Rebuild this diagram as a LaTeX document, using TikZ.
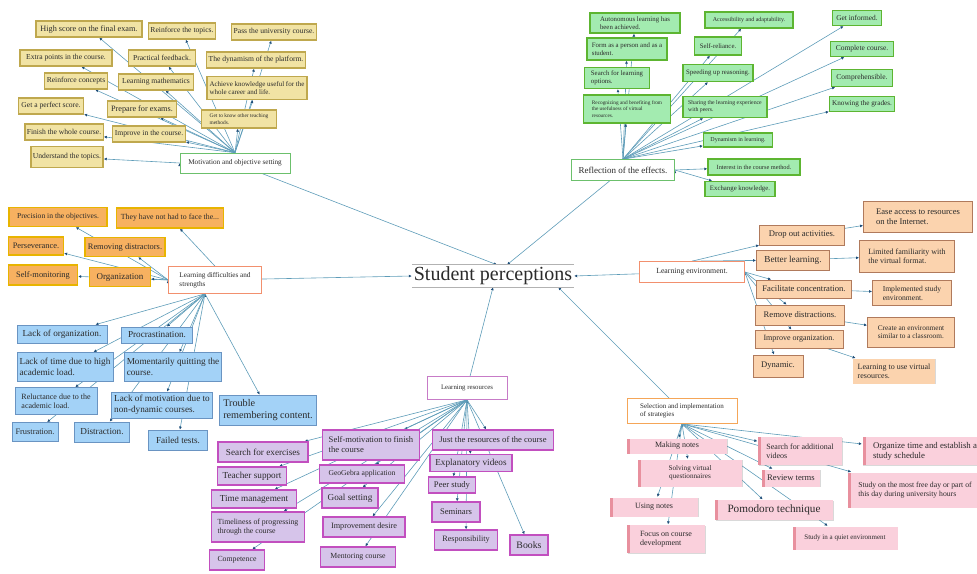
\documentclass[tikz,border=0pt]{standalone}
\usepackage{fontspec}
\setmainfont{Liberation Serif}
\usetikzlibrary{arrows.meta,shadows}
\definecolor{yelfill}{HTML}{F1E3A4}
\definecolor{yeldraw}{HTML}{BFA84E}
\definecolor{grnfill}{HTML}{A3EBB0}
\definecolor{grndraw}{HTML}{5DB531}
\definecolor{orgfill}{HTML}{F7B160}
\definecolor{orgdraw}{HTML}{E8B400}
\definecolor{blufill}{HTML}{A3D2F7}
\definecolor{bludraw}{HTML}{6A94C2}
\definecolor{purfill}{HTML}{D6C4EA}
\definecolor{purdraw}{HTML}{C24FBF}
\definecolor{pnkfill}{HTML}{FAD0DC}
\definecolor{pnkbar}{HTML}{E8909E}
\definecolor{peafill}{HTML}{FBD3AE}
\definecolor{peadraw}{HTML}{B07A5C}
\definecolor{linkblue}{HTML}{5E9CB8}
\definecolor{tipblue}{HTML}{1F4E79}
\definecolor{catgreen}{HTML}{6CC06C}
\definecolor{catorange}{HTML}{F2906E}
\definecolor{catpurple}{HTML}{C77BC7}
\definecolor{txt}{HTML}{2B2B2B}
\pgfdeclarelayer{background}
\pgfsetlayers{background,main}
\tikzset{
  leaf/.style={draw, line width=1.3pt, inner sep=2pt, align=left, text=txt,
    minimum height=16pt, drop shadow={opacity=0.3, shadow xshift=0.8pt, shadow yshift=-0.8pt}},
  yel/.style={leaf, fill=yelfill, draw=yeldraw, font=\fontsize{7.6}{8.6}\selectfont},
  grn/.style={leaf, fill=grnfill, draw=grndraw, font=\fontsize{6.8}{7.8}\selectfont},
  org/.style={leaf, fill=orgfill, draw=orgdraw, font=\fontsize{8.4}{9.6}\selectfont},
  blu/.style={leaf, fill=blufill, draw=bludraw, line width=0.8pt, font=\fontsize{9.2}{10.6}\selectfont},
  pur/.style={leaf, fill=purfill, draw=purdraw, font=\fontsize{8.6}{10}\selectfont},
  pnk/.style={leaf, fill=pnkfill, draw=none, font=\fontsize{8}{9.4}\selectfont,
    path picture={\fill[pnkbar] (path picture bounding box.north west) rectangle
      ([xshift=3pt]path picture bounding box.south west);}},
  pea/.style={leaf, fill=peafill, draw=peadraw, line width=0.9pt, font=\fontsize{8.6}{10}\selectfont},
  cat/.style={draw, fill=white, line width=0.7pt, inner sep=3pt, align=left, text=txt,
    font=\fontsize{7.2}{8.6}\selectfont},
  link/.style={draw=linkblue, line width=0.6pt, -{Latex[length=3pt,width=3pt,color=tipblue]}},
  rule/.style={draw=black!30, line width=1pt},
}
\begin{document}
\begin{tikzpicture}[x=1pt, y=-1pt]
\useasboundingbox (0,0) rectangle (977,573);

% centre
\node[minimum width=162pt, minimum height=22pt, inner sep=0pt, text=txt,
  font=\fontsize{20}{22}\selectfont] (sp) at (493,276) {Student perceptions};
\draw[rule] (sp.north west) -- (sp.north east);
\draw[rule] (sp.south west) -- (sp.south east);

% motivation
\node[cat, draw=catgreen, minimum width=110pt, minimum height=20pt] (mo) at (235,163) {Motivation and objective setting};
\node[yel, minimum width=106pt, font=\fontsize{8.2}{9.2}\selectfont] (hscore) at (89,29) {High score on the final exam.};
\node[yel, minimum width=63pt] (rtopic) at (182,31) {Reinforce the topics.};
\node[yel, minimum width=82pt] (pass) at (274,32) {Pass the university course.};
\node[yel, minimum width=92pt] (extra) at (66,58) {Extra points in the course.};
\node[yel, minimum width=67pt] (pfeed) at (162,58) {Practical feedback.};
\node[yel, minimum width=98pt] (dynam) at (256,60) {The dynamism of the platform.};
\node[yel, minimum width=62pt] (rconc) at (76,81) {Reinforce concepts};
\node[yel, minimum width=75pt] (lmath) at (156,82) {Learning mathematics};
\node[yel, minimum width=100pt, minimum height=23pt, font=\fontsize{7}{8}\selectfont] (achv) at (257,88) {Achieve knowledge useful for the\\whole career and life.};
\node[yel, minimum width=65pt] (pscore) at (51,106) {Get a perfect score.};
\node[yel, minimum width=69pt, font=\fontsize{8.2}{9.2}\selectfont] (prep) at (142,109) {Prepare for exams.};
\node[yel, minimum width=75pt, minimum height=18pt, font=\fontsize{5.4}{6.4}\selectfont] (gknow) at (239,119) {Get to know other teaching\\methods.};
\node[yel, minimum width=75pt] (finish) at (64,132) {Finish the whole course.};
\node[yel, minimum width=72pt] (impr) at (149,134) {Improve in the course.};
\node[yel, minimum width=71pt, minimum height=21pt] (under) at (67,157) {Understand the topics.};

% reflection
\node[cat, draw=catgreen, minimum width=103pt, minimum height=21pt, font=\fontsize{9}{10.4}\selectfont] (rf) at (623,170) {Reflection of the effects.};
\node[grn, minimum width=90pt, minimum height=20pt] (auto) at (635,23) {Autonomous learning has\\been achieved.};
\node[grn, minimum width=88pt, font=\fontsize{6}{7}\selectfont] (acc) at (749,20) {Accessibility and adaptability.};
\node[grn, minimum width=49pt, minimum height=15pt, font=\fontsize{7.4}{8.4}\selectfont] (ginf) at (857,18) {Get informed.};
\node[grn, minimum width=80pt, minimum height=22pt] (form) at (627,49) {Form as a person and as a\\student.};
\node[grn, minimum width=47pt, minimum height=18pt] (self) at (718,46) {Self-reliance.};
\node[grn, minimum width=63pt, minimum height=15pt, font=\fontsize{7.5}{8.5}\selectfont] (comp) at (862,49) {Complete course.};
\node[grn, minimum width=65pt, minimum height=21pt] (srch) at (617,78) {Search for learning\\options.};
\node[grn, minimum width=70pt, minimum height=17pt] (speed) at (718,73) {Speeding up reasoning.};
\node[grn, minimum width=61pt, minimum height=17pt, font=\fontsize{7.5}{8.5}\selectfont] (compr) at (862,78) {Comprehensible.};
\node[grn, minimum width=87pt, minimum height=28pt, font=\fontsize{5.3}{6.3}\selectfont] (recog) at (627,109) {Recognizing and benefiting from\\the usefulness of virtual\\resources.};
\node[grn, minimum width=84pt, minimum height=21pt, font=\fontsize{5.8}{6.8}\selectfont] (share) at (725,107) {Sharing the learning experience\\with peers.};
\node[grn, minimum width=65pt, minimum height=15pt, font=\fontsize{7.2}{8.2}\selectfont] (know) at (862,104) {Knowing the grades.};
\node[grn, minimum width=69pt, minimum height=14pt, font=\fontsize{6}{7}\selectfont] (dynl) at (738,140) {Dynamism in learning.};
\node[grn, minimum width=92pt, font=\fontsize{6.3}{7.3}\selectfont] (intr) at (754,167) {Interest in the course method.};
\node[grn, minimum width=70pt, minimum height=15pt] (exch) at (740,189) {Exchange knowledge.};

% difficulties and strengths
\node[cat, draw=catorange, minimum width=93pt, minimum height=27pt] (ld) at (215,280) {Learning difficulties and\\strengths};
\node[org, minimum width=98pt, minimum height=19pt, font=\fontsize{7.6}{8.6}\selectfont] (prec) at (58,217) {Precision in the objectives.};
\node[org, minimum width=107pt, minimum height=20pt, font=\fontsize{7.8}{8.8}\selectfont] (thev) at (170,218) {They have not had to face the...};
\node[org, minimum width=55pt, minimum height=18pt] (pers) at (36,246) {Perseverance.};
\node[org, minimum width=80pt, minimum height=19pt] (remd) at (125,247) {Removing distractors.};
\node[org, minimum width=69pt, minimum height=20pt] (smon) at (43,275) {Self-monitoring};
\node[org, minimum width=61pt, minimum height=19pt, font=\fontsize{9}{10}\selectfont] (orgn) at (120,277) {Organization};
\node[blu, minimum width=90pt, minimum height=18pt] (lorg) at (62,334) {Lack of organization.};
\node[blu, minimum width=71pt] (proc) at (157,335) {Procrastination.};
\node[blu, minimum width=96pt, minimum height=29pt] (ltime) at (65,367) {Lack of time due to high\\academic load.};
\node[blu, minimum width=97pt, minimum height=29pt] (mqui) at (173,367) {Momentarily quitting the\\course.};
\node[blu, minimum width=82pt, minimum height=27pt, font=\fontsize{8}{9.4}\selectfont] (relu) at (56,401) {Reluctance due to the\\academic load.};
\node[blu, minimum width=101pt, minimum height=26pt] (lmot) at (162,405) {Lack of motivation due to\\non-dynamic courses.};
\node[blu, minimum width=97pt, minimum height=30pt, font=\fontsize{10.2}{11.6}\selectfont] (troub) at (268,410) {Trouble\\remembering content.};
\node[blu, minimum width=46pt, minimum height=19pt, font=\fontsize{8.4}{9.4}\selectfont] (frus) at (35,432) {Frustration.};
\node[blu, minimum width=55pt, minimum height=20pt] (dist) at (102,432) {Distraction.};
\node[blu, minimum width=59pt, minimum height=20pt] (fail) at (178,440) {Failed tests.};

% resources
\node[cat, draw=catpurple, minimum width=80pt, minimum height=23pt, font=\fontsize{6.8}{7.8}\selectfont] (lr) at (467,388) {Learning resources};
\node[pur, minimum width=97pt, minimum height=30pt] (smot) at (371,445) {Self-motivation to finish\\the course};
\node[pur, minimum width=121pt, minimum height=20pt] (just) at (493,440) {Just the resources of the course};
\node[pur, minimum width=90pt, minimum height=20pt, font=\fontsize{9.2}{10.6}\selectfont] (sexe) at (263,452) {Search for exercises};
\node[pur, minimum width=82pt, minimum height=17pt, font=\fontsize{9.2}{10.6}\selectfont] (expl) at (471,463) {Explanatory videos};
\node[pur, minimum width=69pt, minimum height=18pt, font=\fontsize{9.2}{10.6}\selectfont] (tsup) at (252,476) {Teacher support};
\node[pur, minimum width=85pt, minimum height=18pt, font=\fontsize{7.6}{8.6}\selectfont] (geog) at (362,474) {GeoGebra application};
\node[pur, minimum width=47pt, minimum height=16pt] (peer) at (452,485) {Peer study};
\node[pur, minimum width=85pt, minimum height=18pt, font=\fontsize{9.2}{10.6}\selectfont] (tman) at (254,499) {Time management};
\node[pur, minimum width=56pt, minimum height=20pt, font=\fontsize{9.2}{10.6}\selectfont] (goal) at (350,498) {Goal setting};
\node[pur, minimum width=48pt, minimum height=20pt] (semi) at (456,512) {Seminars};
\node[pur, minimum width=93pt, minimum height=30pt, font=\fontsize{7.8}{9.4}\selectfont] (timel) at (258,527) {Timeliness of progressing\\through the course};
\node[pur, minimum width=82pt, minimum height=20pt, font=\fontsize{8.2}{9.4}\selectfont] (impd) at (364,527) {Improvement desire};
\node[pur, minimum width=63pt, minimum height=20pt, font=\fontsize{8.2}{9.4}\selectfont] (resp) at (466,540) {Responsibility};
\node[pur, minimum width=38pt, minimum height=20pt, font=\fontsize{9.8}{11}\selectfont] (books) at (529,545) {Books};
\node[pur, minimum width=55pt, minimum height=20pt, font=\fontsize{7.8}{9}\selectfont] (compt) at (237,560) {Competence};
\node[pur, minimum width=75pt, minimum height=20pt, font=\fontsize{7.8}{9}\selectfont] (ment) at (358,557) {Mentoring course};

% strategies
\node[cat, draw=catorange!80!yellow, minimum width=110pt, minimum height=25pt, font=\fontsize{7}{8.4}\selectfont] (ss) at (682,411) {Selection and implementation\\of strategies};
\node[pnk, minimum width=100pt, minimum height=15pt] (mnot) at (677,446) {Making notes};
\node[pnk, minimum width=84pt, minimum height=28pt] (savid) at (800,451) {Search for additional\\videos};
\node[pnk, minimum width=125pt, minimum height=28pt, font=\fontsize{8.8}{10.2}\selectfont] (orgt) at (925,451) {Organize time and establish a\\study schedule};
\node[pnk, minimum width=104pt, minimum height=27pt, align=center, font=\fontsize{7.2}{8.4}\selectfont] (solv) at (690,473) {Solving virtual\\questionnaires};
\node[pnk, minimum width=58pt, minimum height=17pt, font=\fontsize{8.6}{10}\selectfont] (revt) at (791,478) {Review terms};
\node[pnk, minimum width=135pt, minimum height=35pt, font=\fontsize{7.7}{9.2}\selectfont] (study) at (915,490) {Study on the most free day or part of\\this day during university hours};
\node[pnk, minimum width=88pt, minimum height=19pt] (usen) at (654,507) {Using notes};
\node[pnk, minimum width=118pt, minimum height=20pt, font=\fontsize{11.2}{12.6}\selectfont] (pomo) at (774,510) {Pomodoro technique};
\node[pnk, minimum width=78pt, minimum height=28pt] (focus) at (666,539) {Focus on course\\development};
\node[pnk, minimum width=105pt, minimum height=23pt, font=\fontsize{7}{8}\selectfont] (quiet) at (845,538) {Study in a quiet environment};

% environment
\node[cat, draw=catorange, minimum width=105pt, minimum height=21pt, font=\fontsize{7.8}{9}\selectfont] (le) at (692,272) {Learning environment.};
\node[pea, minimum width=85pt, minimum height=20pt] (drop) at (802,235) {Drop out activities.};
\node[pea, minimum width=109pt, minimum height=31pt] (ease) at (918,217) {Ease access to resources\\on the Internet.};
\node[pea, minimum width=73pt, minimum height=20pt, font=\fontsize{9.2}{10.6}\selectfont] (bett) at (793,260) {Better learning.};
\node[pea, minimum width=95pt, minimum height=32pt, font=\fontsize{8}{9.4}\selectfont] (limf) at (907,256) {Limited familiarity with\\the virtual format.};
\node[pea, minimum width=95pt, minimum height=18pt] (faci) at (804,289) {Facilitate concentration.};
\node[pea, minimum width=79pt, minimum height=25pt, font=\fontsize{7.6}{9}\selectfont] (impl) at (912,293) {Implemented study\\environment.};
\node[pea, minimum width=89pt, minimum height=20pt] (remv) at (800,315) {Remove distractions.};
\node[pea, minimum width=87pt, minimum height=30pt, font=\fontsize{7.3}{8.7}\selectfont] (crea) at (911,332) {Create an environment\\similar to a classroom.};
\node[pea, minimum width=88pt, minimum height=18pt, font=\fontsize{8}{9.4}\selectfont] (impo) at (799,339) {Improve organization.};
\node[pea, minimum width=50pt, minimum height=22pt] (dyn) at (778,366) {Dynamic.};
\node[pea, draw=none, minimum width=82pt, minimum height=25pt, font=\fontsize{8}{9.4}\selectfont] (lvir) at (894,371) {Learning to use virtual\\resources.};

\begin{pgfonlayer}{background}
\path[link] (mo.north) edge (hscore) edge (rtopic) edge (pass) edge (extra) edge (pfeed)
  edge (dynam) edge (rconc) edge (lmath) edge (achv) edge (pscore) edge (prep)
  edge (gknow) edge (finish) edge (impr);
\path[link] (mo.west) edge (under);
\path[link] (rf.north) edge (auto) edge (acc) edge (ginf) edge (form) edge (self) edge (comp)
  edge (srch) edge (speed) edge (compr) edge (recog) edge (share) edge (know) edge (dynl);
\path[link] (rf.east) edge (intr) edge (exch);
\path[link] (ld.west) edge (prec) edge (pers) edge (remd) edge (smon) edge (orgn);
\path[link] (ld.north) edge (thev);
\path[link] ([xshift=-10pt]ld.south) edge (lorg) edge (proc) edge (ltime) edge (mqui) edge (relu)
  edge (lmot) edge (troub) edge (frus) edge (dist) edge (fail);
\path[link] (lr.south) edge (smot) edge (just) edge (sexe) edge (expl) edge (tsup) edge (geog)
  edge (peer) edge (tman) edge (goal) edge (semi) edge (timel) edge (impd) edge (resp)
  edge (books) edge (compt) edge (ment);
\path[link] (ss.south) edge (mnot) edge (savid) edge (orgt) edge (solv) edge (revt) edge (study)
  edge (usen) edge (pomo) edge (focus) edge (quiet);
\path[link] (le.north) edge (drop) edge (bett);
\path[link] (le.east) edge (faci) edge (remv) edge (impo) edge (dyn);
\path[link] (drop) edge (ease);
\path[link] (bett) edge (limf);
\path[link] (faci) edge (impl);
\path[link] (remv) edge (crea);
\path[link] (impo) edge (lvir);
% into the centre
\path[link] (mo) edge ([xshift=4pt]sp.north)
  (rf) edge ([xshift=14pt]sp.north)
  (ld) edge (sp.west)
  (le) edge (sp.east)
  (lr) edge (sp.south)
  (ss) edge ([xshift=-16pt]sp.south east);
\end{pgfonlayer}
\end{tikzpicture}
\end{document}
